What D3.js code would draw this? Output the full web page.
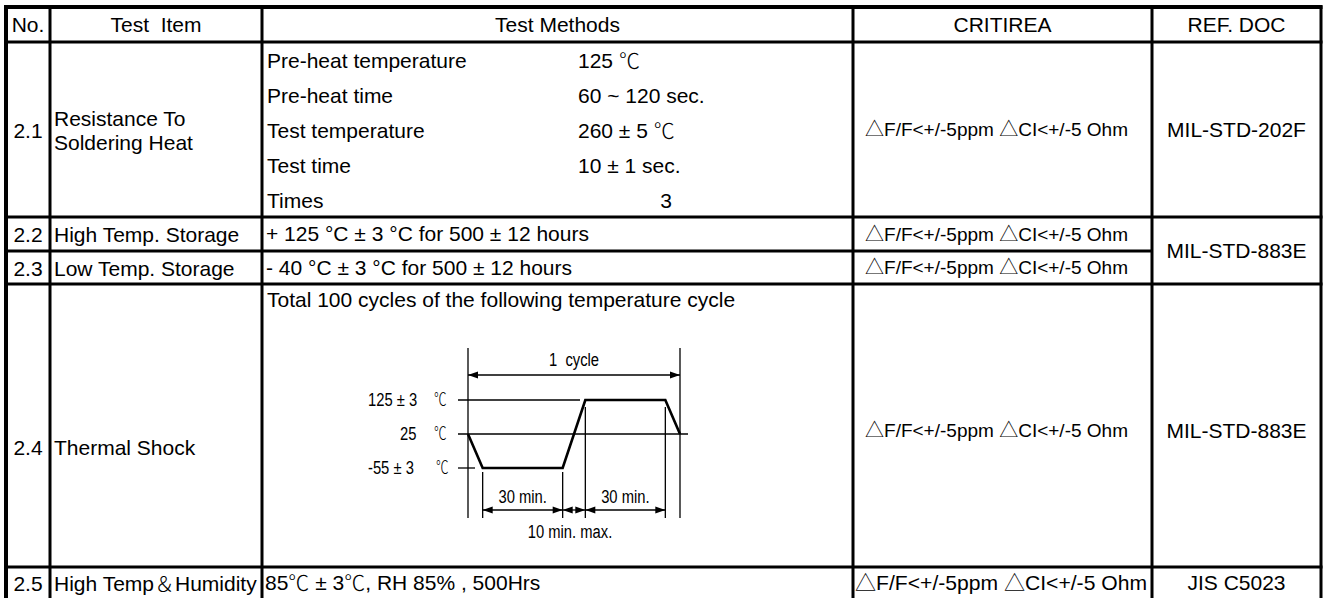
<!DOCTYPE html>
<html lang="en">
<head>
<meta charset="UTF-8">
<title>Reliability Test Items</title>
<script src="https://d3js.org/d3.v7.min.js"></script>
<style>
  body { margin: 0; background: #fff; }
  svg { display: block; font-family: "Liberation Sans", Arial, sans-serif; }
  .cell { font-size: 21px; fill: #000; }
  .crit { font-size: 19px; fill: #000; }
  .deg { font-family: "Noto Sans CJK JP", sans-serif; font-weight: 300; }
  .diag { font-size: 18px; fill: #000; }
</style>
</head>
<body>
<div id="chart"></div>
<script>
// ---- table data ----
const headers = ["No.", "Test  Item", "Test Methods", "CRITIREA", "REF. DOC"];
const itemNos = ["2.1", "2.2", "2.3", "2.4", "2.5"];
const itemNames = [["Resistance To", "Soldering Heat"], ["High Temp. Storage"], ["Low Temp. Storage"], ["Thermal Shock"], ["High Temp＆Humidity"]];
const solderSteps = ["Pre-heat temperature", "Pre-heat time", "Test temperature", "Test time", "Times"];
const solderValues = ["125 ℃", "60 ~ 120 sec.", "260 ± 5 ℃", "10 ± 1 sec.", "3"];
const methodLines = ["", "+ 125 °C ± 3 °C for 500 ± 12 hours", "- 40 °C ± 3 °C for 500 ± 12 hours",
  "Total 100 cycles of the following temperature cycle", "85℃ ± 3℃, RH 85% , 500Hrs"];
const criteria = "△F/F<+/-5ppm △CI<+/-5 Ohm";
const refDocs = ["MIL-STD-202F", "MIL-STD-883E", "MIL-STD-883E", "JIS C5023"];
const refRows = [[0, 0], [1, 2], [3, 3], [4, 4]];   // row span of each ref doc

// ---- thermal cycle diagram data ----
const tempLevels = ["125 ± 3", "25", "-55 ± 3"];
const profileTime = [0, 5.5, 35.5, 44, 74, 79.5];           // minutes (schematic)
const profileLevel = ["25", "-55 ± 3", "-55 ± 3", "125 ± 3", "125 ± 3", "25"];
const spans = [
  { from: 0, to: 79.5, label: "1  cycle", row: "top" },
  { from: 5.5, to: 35.5, label: "30 min.", row: "bottom" },
  { from: 35.5, to: 44, label: "10 min. max.", row: "under" },
  { from: 44, to: 74, label: "30 min.", row: "bottom" }
];

// ---- layout ----
const W = 1324, H = 598;
const colEdges = [6, 50, 262, 853, 1152, 1321];
const rowEdges = [7, 42, 217, 251, 284, 567, 600];
const subRowH = (rowEdges[2] - rowEdges[1]) / solderSteps.length;

const svg = d3.select("#chart").append("svg")
  .attr("width", W).attr("height", H);

const colMid = i => (colEdges[i] + colEdges[i + 1]) / 2;
const rowMid = i => (rowEdges[i] + rowEdges[i + 1]) / 2;

// write text, putting ℃ / ＆ / △ in a CJK face like the original
function addText(g, str, x, y, anchor, cls) {
  const t = g.append("text").attr("class", cls || "cell")
    .attr("x", x).attr("y", y).attr("dy", "0.35em")
    .attr("text-anchor", anchor || "start")
    .style("white-space", "pre");
  str.split(/(℃|＆|△)/).forEach(part => {
    if (!part) return;
    const ts = t.append("tspan").text(part);
    if (part === "℃" || part === "＆" || part === "△") ts.attr("class", "deg");
  });
  return t;
}

// squeeze a text horizontally (the diagram uses a narrow face)
function narrow(sel, f) {
  const len = sel.node().getComputedTextLength();
  sel.attr("textLength", len * f).attr("lengthAdjust", "spacingAndGlyphs");
  return sel;
}

const txt = svg.append("g");

// header
headers.forEach((h, i) => addText(txt, h, colMid(i), rowMid(0), "middle"));

// item numbers and names (2.4 label sits a little low in its cell)
itemNos.forEach((n, r) => {
  const yc = rowMid(r + 1) + (r === 3 ? 22 : r === 4 ? 0 : 1);
  addText(txt, n, colMid(0), yc, "middle");
  const names = itemNames[r];
  names.forEach((nm, k) => {
    addText(txt, nm, colEdges[1] + 4, yc + (k - (names.length - 1) / 2) * 24, "start");
  });
});

// soldering heat sub rows
solderSteps.forEach((s, k) => {
  const y = rowEdges[1] + subRowH * (k + 0.5) + 1;
  addText(txt, s, colEdges[2] + 5, y, "start");
  addText(txt, solderValues[k], k === 4 ? 666 : 578, y, k === 4 ? "middle" : "start");
});

// other methods
addText(txt, methodLines[1], colEdges[2] + 4, rowMid(2), "start");
addText(txt, methodLines[2], colEdges[2] + 4, rowMid(3), "start");
addText(txt, methodLines[3], colEdges[2] + 5, 300, "start");
addText(txt, methodLines[4], colEdges[2] + 3, rowMid(5) - 0.5, "start");

// criteria
[1, 2, 3, 4].forEach(r => {
  addText(txt, criteria, colMid(3) - 6, rowMid(r) + (r === 4 ? 5 : 0), "middle", "crit");
});
addText(txt, criteria, colEdges[3] + 2, rowMid(5) - 0.5, "start", "cell")
  .attr("textLength", 292).attr("lengthAdjust", "spacingAndGlyphs");

// ref docs
refDocs.forEach((d, i) => {
  const [a, b] = refRows[i];
  const y = (rowEdges[a + 1] + rowEdges[b + 2]) / 2 + (a === 3 ? 5 : 0) - (a === 4 ? 0.5 : 0);
  addText(txt, d, colMid(4), y, "middle");
});

// ---- grid lines ----
const grid = svg.append("g").attr("stroke", "#000").attr("stroke-width", 3);
colEdges.forEach((x, i) => grid.append("line").attr("x1", x).attr("x2", x)
  .attr("stroke-width", i === 0 ? 4 : 3)
  .attr("y1", rowEdges[0] - 1.5).attr("y2", H + 2));
rowEdges.slice(0, 6).forEach((y, i) => {
  const x2 = i === 3 ? colEdges[4] : colEdges[5] + 1.5;   // REF. DOC merged for 2.2/2.3
  grid.append("line").attr("x1", colEdges[0] - 2).attr("x2", x2)
    .attr("y1", y).attr("y2", y).attr("stroke-width", i === 0 ? 4 : 3);
});

// ---- thermal cycle diagram ----
const x = d3.scaleLinear().domain([0, 79.5]).range([468, 680]);
const y = d3.scalePoint().domain(tempLevels).range([400, 468]);
const dg = svg.append("g");

svg.append("defs").selectAll("marker")
  .data(["start", "end"]).join("marker")
  .attr("id", d => "ah-" + d)
  .attr("viewBox", "0 -4 10 8")
  .attr("refX", 10).attr("refY", 0)
  .attr("markerWidth", 11).attr("markerHeight", 8)
  .attr("markerUnits", "userSpaceOnUse")
  .attr("orient", "auto-start-reverse")
  .append("path").attr("d", "M0,-3.5L10,0L0,3.5Z").attr("fill", "#000");

const thin = dg.append("g").attr("stroke", "#000").attr("stroke-width", 1.3);
// level lines
thin.append("line").attr("x1", 458).attr("x2", x(42)).attr("y1", y("125 ± 3")).attr("y2", y("125 ± 3"));
thin.append("line").attr("x1", 458).attr("x2", x(79.5) + 8).attr("y1", y("25")).attr("y2", y("25"));
thin.append("line").attr("x1", 458).attr("x2", x(0) + 7).attr("y1", y("-55 ± 3")).attr("y2", y("-55 ± 3"));

// extension lines
const ext = [
  { t: 0, y1: 348 }, { t: 79.5, y1: 348 },
  { t: 5.5, y1: y("-55 ± 3") + 4 }, { t: 35.5, y1: y("-55 ± 3") + 4 },
  { t: 44, y1: y("125 ± 3") + 7 }, { t: 74, y1: y("125 ± 3") + 7 }
];
ext.forEach(e => thin.append("line").attr("x1", x(e.t)).attr("x2", x(e.t)).attr("y1", e.y1).attr("y2", 518));

// profile
dg.append("path")
  .datum(profileTime.map((t, i) => [t, profileLevel[i]]))
  .attr("fill", "none").attr("stroke", "#000").attr("stroke-width", 2.6)
  .attr("d", d3.line().x(d => x(d[0])).y(d => y(d[1])));

// dimension arrows
const rowY = { top: 375, bottom: 510, under: 510 };
spans.forEach(s => {
  thin.append("line").attr("x1", x(s.from)).attr("x2", x(s.to))
    .attr("y1", rowY[s.row]).attr("y2", rowY[s.row])
    .attr("marker-start", "url(#ah-start)").attr("marker-end", "url(#ah-end)");
  const lx = s.row === "under" ? (x(s.from) + x(s.to)) / 2 - 4 : (x(s.from) + x(s.to)) / 2;
  const ly = s.row === "top" ? 360 : s.row === "bottom" ? 497 : 532;
  narrow(dg.append("text").attr("class", "diag").attr("x", lx).attr("y", ly).attr("dy", "0.35em")
    .attr("text-anchor", "middle").style("white-space", "pre").text(s.label), 0.82);
});

// level labels
tempLevels.forEach(l => {
  narrow(dg.append("text").attr("class", "diag").attr("y", y(l)).attr("dy", "0.35em")
    .attr("x", l === "25" ? 400 : 368).text(l), 0.82);
  narrow(dg.append("text").attr("class", "diag deg").attr("y", y(l)).attr("dy", "0.35em")
    .attr("x", l === "-55 ± 3" ? 436 : 434).text("℃"), 0.7);
});
</script>
</body>
</html>
